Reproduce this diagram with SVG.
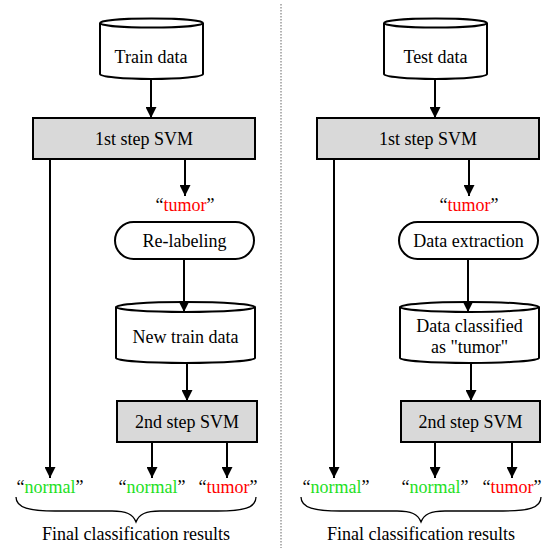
<svg xmlns="http://www.w3.org/2000/svg" width="542" height="548" viewBox="0 0 542 548" font-family="'Liberation Serif', 'DejaVu Serif', serif" font-size="18">
<defs>
<marker id="ah" markerUnits="userSpaceOnUse" markerWidth="11" markerHeight="11" refX="11" refY="5.5" orient="auto">
<path d="M0,0 L11,5.5 L0,11 z" fill="#000"/>
</marker>
<style>
text{font-family:'Liberation Serif','DejaVu Serif',serif;font-size:18px;fill:#000;text-anchor:middle}
.box{fill:#d9d9d9;stroke:#000;stroke-width:2}
.shape{fill:#fff;stroke:#000;stroke-width:2}
.arr{fill:none;stroke:#000;stroke-width:2;marker-end:url(#ah)}
.g{fill:#1ee01e}
.r{fill:#ff0000}
.brace{fill:none;stroke:#000;stroke-width:1.3}
</style>
</defs>
<rect x="0" y="0" width="542" height="548" fill="#fff"/>
<line x1="281" y1="4" x2="281" y2="548" stroke="#666" stroke-width="1" stroke-dasharray="1.5,1.5"/>

<g id="train-data">
<path class="shape" d="M100,23 L100,74 A51.5,5 0 0 0 203,74 L203,23"/>
<ellipse class="shape" cx="151.5" cy="23" rx="51.5" ry="4.5"/>
<text x="151" y="63">Train data</text>
</g>
<g id="svm1-left">
<rect class="box" x="33" y="118" width="222" height="41"/>
<text x="144" y="145">1st step SVM</text>
</g>
<g id="tumor-left">
<text x="185" y="211">“<tspan class="r">tumor</tspan>”</text>
</g>
<g id="relabeling">
<rect class="shape" x="115" y="222" width="139" height="37" rx="18.5" ry="18.5"/>
<text x="184.5" y="247">Re-labeling</text>
</g>
<g id="new-train-data">
<path class="shape" d="M116,307 L116,358 A69.5,5 0 0 0 255,358 L255,307"/>
<ellipse class="shape" cx="185.5" cy="307" rx="69.5" ry="5"/>
<text x="185.5" y="343">New train data</text>
</g>
<g id="svm2-left">
<rect class="box" x="117" y="401" width="140" height="41"/>
<text x="187" y="428">2nd step SVM</text>
</g>
<g id="results-left">
<text x="50" y="493">“<tspan class="g">normal</tspan>”</text>
<text x="152" y="493">“<tspan class="g">normal</tspan>”</text>
<text x="228" y="493">“<tspan class="r">tumor</tspan>”</text>
<path class="brace" d="M16,497 C16,508 30,511 55,511 L112,511 C126,511 133,514 136,522 C139,514 146,511 160,511 L218,511 C243,511 256,508 256,497"/>
<text x="136" y="540">Final classification results</text>
</g>

<g id="test-data">
<path class="shape" d="M384,23 L384,74 A51.5,5 0 0 0 487,74 L487,23"/>
<ellipse class="shape" cx="435.5" cy="23" rx="51.5" ry="4.5"/>
<text x="435.5" y="63">Test data</text>
</g>
<g id="svm1-right">
<rect class="box" x="317" y="118" width="222" height="41"/>
<text x="428" y="145">1st step SVM</text>
</g>
<g id="tumor-right">
<text x="469" y="211">“<tspan class="r">tumor</tspan>”</text>
</g>
<g id="data-extraction">
<rect class="shape" x="399" y="222" width="139" height="37" rx="18.5" ry="18.5"/>
<text x="468.5" y="247">Data extraction</text>
</g>
<g id="data-classified">
<path class="shape" d="M400,307 L400,358 A69.5,5 0 0 0 539,358 L539,307"/>
<ellipse class="shape" cx="469.5" cy="307" rx="69.5" ry="5"/>
<text x="469.5" y="332">Data classified</text>
<text x="469.5" y="353">as "tumor"</text>
</g>
<g id="svm2-right">
<rect class="box" x="401" y="401" width="139" height="41"/>
<text x="470.5" y="428">2nd step SVM</text>
</g>
<g id="results-right">
<text x="336" y="493">“<tspan class="g">normal</tspan>”</text>
<text x="435" y="493">“<tspan class="g">normal</tspan>”</text>
<text x="512" y="493">“<tspan class="r">tumor</tspan>”</text>
<path class="brace" d="M301,497 C301,508 315,511 340,511 L397,511 C411,511 418,514 421,522 C424,514 431,511 445,511 L503,511 C528,511 541,508 541,497"/>
<text x="421" y="540">Final classification results</text>
</g>

<g id="connectors">
<line class="arr" x1="151" y1="79" x2="151" y2="118"/>
<line class="arr" x1="185" y1="160" x2="185" y2="196"/>
<line class="arr" x1="184" y1="260" x2="184" y2="312"/>
<line class="arr" x1="187" y1="364" x2="187" y2="401"/>
<line class="arr" x1="50" y1="160" x2="50" y2="478"/>
<line class="arr" x1="152" y1="443" x2="152" y2="478"/>
<line class="arr" x1="227" y1="443" x2="227" y2="478"/>
<line class="arr" x1="435" y1="79" x2="435" y2="118"/>
<line class="arr" x1="469" y1="160" x2="469" y2="196"/>
<line class="arr" x1="468" y1="260" x2="468" y2="312"/>
<line class="arr" x1="471" y1="364" x2="471" y2="401"/>
<line class="arr" x1="334" y1="160" x2="334" y2="478"/>
<line class="arr" x1="435" y1="443" x2="435" y2="478"/>
<line class="arr" x1="512" y1="443" x2="512" y2="478"/>
</g>
</svg>
